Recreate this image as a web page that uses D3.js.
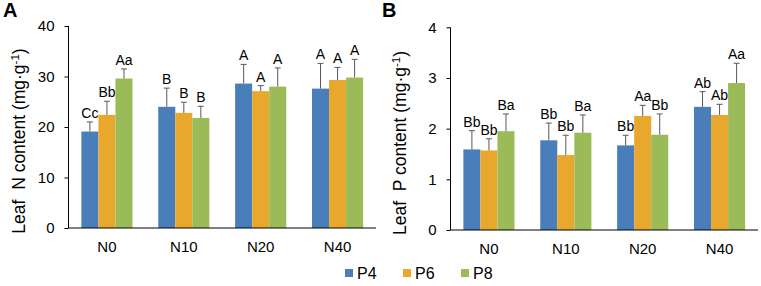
<!DOCTYPE html>
<html><head><meta charset="utf-8">
<script src="https://cdn.jsdelivr.net/npm/d3@7"></script>
<style>
body{margin:0;background:#fff;}
svg{display:block;font-family:"Liberation Sans",Arial,sans-serif;}
</style></head>
<body><svg id="c" width="761" height="286"></svg>
<script>
const categories = ["N0","N10","N20","N40"];
const seriesNames = ["P4","P6","P8"];
const colors = ["#4a7ebb","#e8a82e","#9bbb59"];

// Panel A: Leaf N content
const nP4 = [19.1, 24.0, 28.6, 27.6];
const nP6 = [22.4, 22.8, 27.1, 29.3];
const nP8 = [29.6, 21.8, 28.0, 29.8];
const nErrP4 = [1.9, 3.7, 3.8, 5.0];
const nErrP6 = [2.7, 2.1, 1.1, 2.5];
const nErrP8 = [1.9, 2.3, 3.7, 3.6];
const nLabP4 = ["Cc","B","A","A"];
const nLabP6 = ["Bb","B","A","A"];
const nLabP8 = ["Aa","B","A","A"];
const nTicks = [0,10,20,30,40];

// Panel B: Leaf P content
const pP4 = [1.59, 1.77, 1.67, 2.43];
const pP6 = [1.57, 1.48, 2.25, 2.27];
const pP8 = [1.95, 1.92, 1.88, 2.90];
const pErrP4 = [0.37, 0.34, 0.20, 0.30];
const pErrP6 = [0.23, 0.39, 0.21, 0.21];
const pErrP8 = [0.34, 0.35, 0.41, 0.39];
const pLabP4 = ["Bb","Bb","Bb","Ab"];
const pLabP6 = ["Bb","Bb","Aa","Ab"];
const pLabP8 = ["Ba","Ba","Bb","Aa"];
const pTicks = [0,1,2,3,4];

const svg = d3.select("#c");

function panel(opts){
  const {x0,x1,yTop,yBot,max,ticks,vals,errs,labs,title,tag,titleX} = opts;
  const g = svg.append("g");
  const x = d3.scaleBand().domain(categories).range([x0,x1]).paddingInner(0.335).paddingOuter(0.1675);
  const xs = d3.scaleBand().domain(seriesNames).range([0,x.bandwidth()]);
  const y = d3.scaleLinear().domain([0,max]).range([yBot,yTop]);

  seriesNames.forEach((s,si)=>{
    const data = categories.map((c,i)=>({c,v:vals[si][i],e:errs[si][i],l:labs[si][i]}));
    const sg = g.append("g");
    sg.selectAll("rect").data(data).join("rect")
      .attr("x",d=>x(d.c)+xs(s)).attr("width",xs.bandwidth())
      .attr("y",d=>y(d.v)).attr("height",d=>y(0)-y(d.v))
      .attr("fill",colors[si]);
    const cx = d=>x(d.c)+xs(s)+xs.bandwidth()/2;
    sg.selectAll("line.eb").data(data).join("line").attr("class","eb")
      .attr("x1",cx).attr("x2",cx).attr("y1",d=>y(d.v)).attr("y2",d=>y(d.v+d.e))
      .attr("stroke","#595959").attr("stroke-width",1);
    sg.selectAll("line.cap").data(data).join("line").attr("class","cap")
      .attr("x1",d=>cx(d)-3).attr("x2",d=>cx(d)+3).attr("y1",d=>y(d.v+d.e)).attr("y2",d=>y(d.v+d.e))
      .attr("stroke","#595959").attr("stroke-width",1);
    sg.selectAll("text").data(data).join("text")
      .attr("x",cx).attr("y",d=>y(d.v+d.e)-4)
      .attr("text-anchor","middle").attr("font-size",14).attr("fill","#000")
      .text(d=>d.l);
  });

  const ya = d3.axisLeft(y).tickValues(ticks).tickFormat(d3.format("d")).tickSize(4).tickPadding(10);
  const yg = g.append("g").attr("transform",`translate(${x0},0)`).call(ya);
  yg.select(".domain").attr("stroke","#000").attr("d",`M0,${yBot}V${yTop}`);
  yg.selectAll(".tick line").attr("stroke","#000");
  yg.selectAll(".tick text").attr("font-size",15).attr("fill","#000").attr("font-family","Liberation Sans, Arial, sans-serif");

  const xa = d3.axisBottom(x).tickSize(0).tickPadding(13);
  const xg = g.append("g").attr("transform",`translate(0,${yBot})`).call(xa);
  xg.select(".domain").attr("stroke","#000").attr("d",`M${x0},0H${x1}`);
  xg.selectAll(".tick text").attr("font-size",15).attr("fill","#000").attr("font-family","Liberation Sans, Arial, sans-serif");

  g.append("text").attr("transform",`translate(${titleX},${opts.titleY}) rotate(-90)`)
    .attr("text-anchor","middle").attr("font-size",17.5).attr("fill","#000")
    .style("white-space","pre")
    .html(title);

  g.append("text").attr("x",opts.tagX).attr("y",17).attr("font-size",20).attr("font-weight","bold").text(tag);
}

panel({x0:68.5,x1:376,yTop:26,yBot:228,max:40,ticks:nTicks,
  vals:[nP4,nP6,nP8],errs:[nErrP4,nErrP6,nErrP8],labs:[nLabP4,nLabP6,nLabP8],
  title:'Leaf  N content (mg·g<tspan dy="-6" font-size="11.5">-1</tspan><tspan dy="6">)</tspan>',tag:"A",tagX:3,titleX:25,titleY:141});
panel({x0:450.5,x1:758,yTop:27.3,yBot:230,max:4,ticks:pTicks,
  vals:[pP4,pP6,pP8],errs:[pErrP4,pErrP6,pErrP8],labs:[pLabP4,pLabP6,pLabP8],
  title:'Leaf  P content (mg·g<tspan dy="-6" font-size="11.5">-1</tspan><tspan dy="6">)</tspan>',tag:"B",tagX:382,titleX:406,titleY:143});

// Legend
const leg = svg.append("g");
const legX = d3.scalePoint().domain(seriesNames).range([345,461]);
seriesNames.forEach((s,i)=>{
  leg.append("rect").attr("x",legX(s)).attr("y",269).attr("width",8).attr("height",8).attr("fill",colors[i]);
  leg.append("text").attr("x",legX(s)+12).attr("y",279).attr("font-size",16).attr("fill","#000").text(s);
});
</script></body></html>
